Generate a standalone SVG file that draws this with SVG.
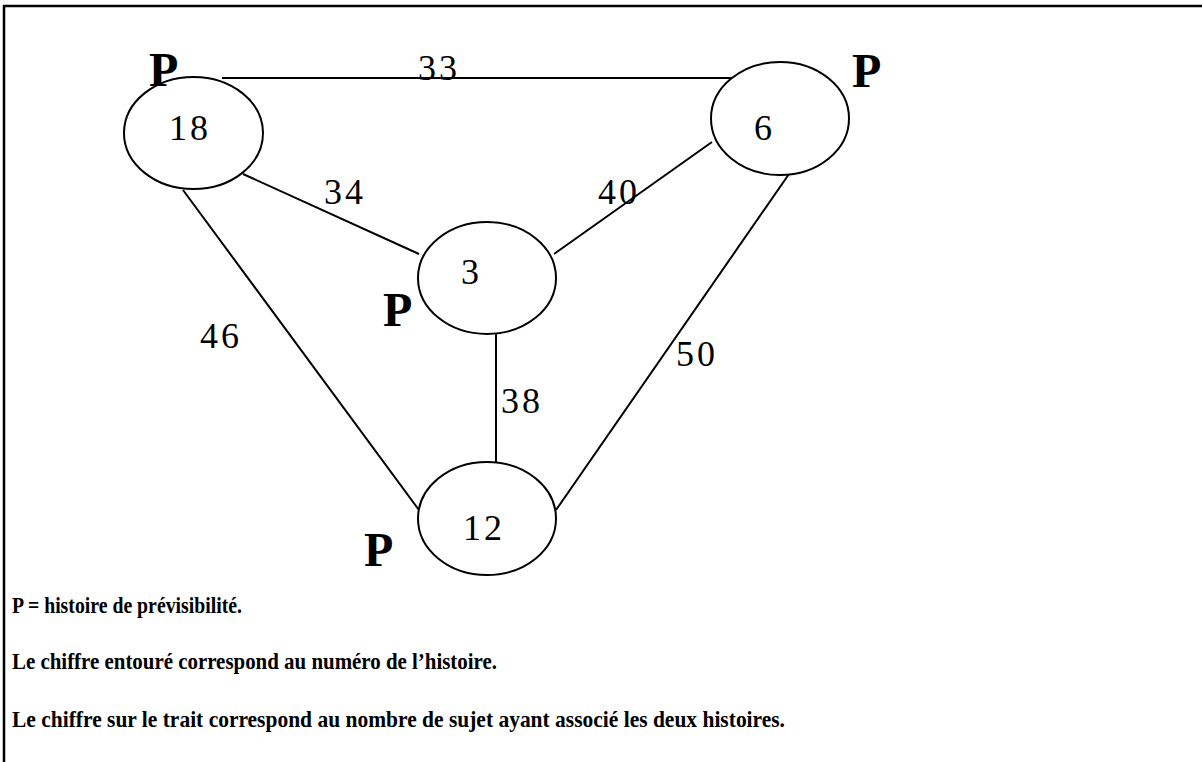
<svg xmlns="http://www.w3.org/2000/svg" width="1202" height="762" viewBox="0 0 1202 762">
<style>
.node ellipse{fill:#fff;stroke:#000;stroke-width:2}
.num{font-family:"Liberation Serif","Times New Roman",serif;font-size:36px;letter-spacing:3px;fill:#000}
.p{font-family:"Liberation Serif","Times New Roman",serif;font-size:48px;font-weight:bold;fill:#000}
.leg{font-family:"Liberation Serif","Times New Roman",serif;font-size:23px;font-weight:bold;fill:#000}
#edges line{stroke:#000;stroke-width:2}
</style>
<rect width="1202" height="762" fill="#fff"/>
<path d="M4 762 V6 H1202" fill="none" stroke="#000" stroke-width="2.5"/>
<g id="edges">
<line x1="222" y1="78" x2="732" y2="78"/>
<line x1="243" y1="174" x2="419" y2="254"/>
<line x1="712" y1="142" x2="554" y2="254"/>
<line x1="183" y1="190" x2="419" y2="510"/>
<line x1="496" y1="334" x2="496" y2="462"/>
<line x1="789" y1="174" x2="556" y2="510"/>
<text class="num" x="418" y="80">33</text>
<text class="num" x="324" y="204">34</text>
<text class="num" x="598" y="204">40</text>
<text class="num" x="200" y="348">46</text>
<text class="num" x="501" y="413">38</text>
<text class="num" x="676" y="366">50</text>
</g>
<g id="node18" class="node">
<ellipse cx="193.5" cy="133" rx="69.5" ry="56"/>
<text class="num" x="169" y="140">18</text>
<text class="p" x="149" y="86">P</text>
</g>
<g id="node6" class="node">
<ellipse cx="780" cy="118.5" rx="69" ry="56.5"/>
<text class="num" x="754" y="140">6</text>
<text class="p" x="852" y="87">P</text>
</g>
<g id="node3" class="node">
<ellipse cx="487" cy="278" rx="69" ry="56"/>
<text class="num" x="461" y="284">3</text>
<text class="p" x="383" y="326">P</text>
</g>
<g id="node12" class="node">
<ellipse cx="487" cy="518.5" rx="69" ry="56.5"/>
<text class="num" x="463" y="540">12</text>
<text class="p" x="364" y="566">P</text>
</g>
<g id="legend">
<text class="leg" x="12" y="613" textLength="230" lengthAdjust="spacingAndGlyphs">P = histoire de prévisibilité.</text>
<text class="leg" x="12" y="669" textLength="485" lengthAdjust="spacingAndGlyphs">Le chiffre entouré correspond au numéro de l’histoire.</text>
<text class="leg" x="12" y="727" textLength="773" lengthAdjust="spacingAndGlyphs">Le chiffre sur le trait correspond au nombre de sujet ayant associé les deux histoires.</text>
</g>
</svg>
